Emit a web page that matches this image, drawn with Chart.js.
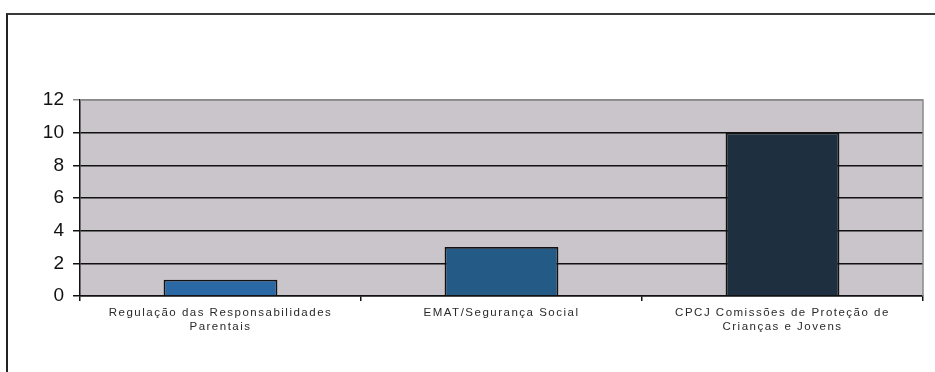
<!DOCTYPE html>
<html>
<head>
<meta charset="utf-8">
<script src="https://cdn.jsdelivr.net/npm/chart.js@4"></script>
<style>
  body { margin: 0; background: #fff; }
  #wrap { position: relative; width: 935px; height: 372px; overflow: hidden; }
  #frame {
    position: absolute; left: 6px; top: 13px; width: 960px; height: 400px;
    border-top: 2px solid #3a3a3a; border-left: 2px solid #222;
  }
  #chart { position: absolute; left: 0; top: 0; }
</style>
</head>
<body>
<div id="wrap">
  <div id="frame"></div>
  <canvas id="chart" width="935" height="372"></canvas>
</div>
<script>
// chart data
const categories = [
    ['Regulação das Responsabilidades', 'Parentais'],
    ['EMAT/Segurança Social'],
    ['CPCJ Comissões de Proteção de', 'Crianças e Jovens']
];
const values = [1, 3, 10];
const barColors = ['#2a69a6', '#245a86', '#1e3040'];
const yTicks = [0, 2, 4, 6, 8, 10, 12];

const fontFamily = "Arial, 'Liberation Sans', sans-serif";

// grey plot background + grey top/right border
const plotBackground = {
    id: 'plotBackground',
    beforeDraw(chart) {
        const { ctx, chartArea: a } = chart;
        ctx.save();
        ctx.fillStyle = '#c9c5ca';
        ctx.fillRect(a.left, a.top, a.right - a.left, a.bottom - a.top);
        ctx.restore();
    },
    afterDraw(chart) {
        const { ctx, chartArea: a } = chart;
        ctx.save();
        ctx.strokeStyle = '#8a8a8a';
        ctx.lineWidth = 1.5;
        ctx.beginPath();
        ctx.moveTo(a.left, a.top);
        ctx.lineTo(a.right, a.top);
        ctx.lineTo(a.right, a.bottom);
        ctx.stroke();
        ctx.restore();
    }
};

// wider letter spacing on the category labels
const spacedLabels = {
    id: 'spacedLabels',
    beforeDraw(chart) {
        const x = chart.scales.x;
        if (!x || x._spaced) return;
        const orig = x.drawLabels;
        x.drawLabels = function (area) {
            const ctx = this.ctx;
            ctx.save();
            ctx.letterSpacing = '1.5px';
            orig.call(this, area);
            ctx.restore();
        };
        x._spaced = true;
    }
};

new Chart(document.getElementById('chart'), {
    type: 'bar',
    data: {
        labels: categories,
        datasets: [{
            data: values,
            backgroundColor: barColors,
            borderColor: '#111',
            borderWidth: 1.8,
            borderSkipped: 'bottom',
            categoryPercentage: 1,
            barPercentage: 0.405
        }]
    },
    options: {
        responsive: false,
        animation: false,
        layout: { padding: { top: 100, right: 12, left: 0, bottom: 0 } },
        plugins: {
            legend: { display: false },
            tooltip: { enabled: false }
        },
        scales: {
            x: {
                grid: { drawOnChartArea: false, offset: true, tickLength: 5, color: '#111', lineWidth: 1.5 },
                border: { color: '#111', width: 1.5 },
                ticks: {
                    maxRotation: 0,
                    autoSkip: false,
                    padding: 5,
                    color: '#2a2a2a',
                    font: { family: fontFamily, size: 11.5, lineHeight: 1.2 }
                },
                afterFit(scale) { scale.height = 76; }
            },
            y: {
                min: 0,
                max: 12,
                afterBuildTicks(scale) { scale.ticks = yTicks.map(v => ({ value: v })); },
                grid: {
                    tickLength: 7,
                    lineWidth: 1.5,
                    color: ctx => (ctx.tick && ctx.tick.value === 12) ? '#8a8a8a' : '#111'
                },
                border: { color: '#111', width: 1.5 },
                ticks: {
                    padding: 9,
                    color: '#111',
                    font: { family: fontFamily, size: 19 }
                },
                afterFit(scale) { scale.width = 80; }
            }
        }
    },
    plugins: [plotBackground, spacedLabels]
});
</script>
</body>
</html>
